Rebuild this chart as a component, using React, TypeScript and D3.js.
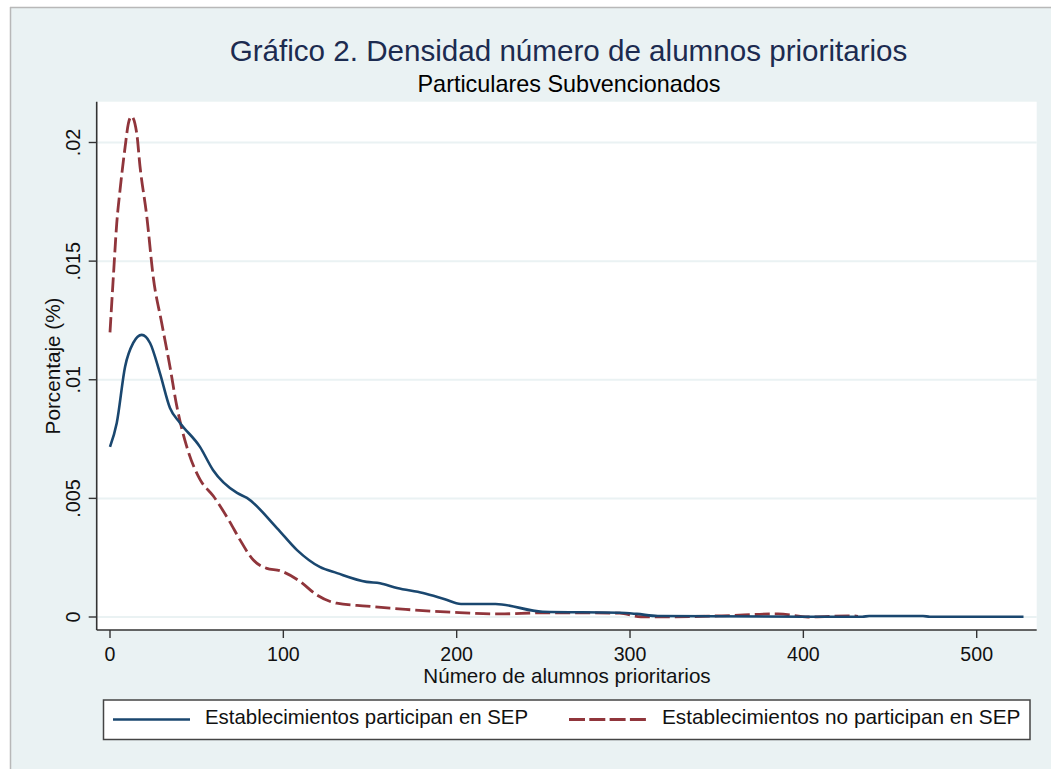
import React from "react";
import * as d3 from "d3";

const xTicks = [0, 100, 200, 300, 400, 500];
const yTicks = [0, 0.005, 0.01, 0.015, 0.02];
const yTickLabels = ["0", ".005", ".01", ".015", ".02"];

const title = "Gráfico 2. Densidad número de alumnos prioritarios";
const subtitle = "Particulares Subvencionados";
const xTitle = "Número de alumnos prioritarios";
const yTitle = "Porcentaje (%)";
const seriesNames = ["Establecimientos participan en SEP", "Establecimientos no participan en SEP"];

// Establecimientos participan en SEP
const sepX = [0, 3.9, 8.7, 13.4, 18.3, 23.1, 28.8, 34.6, 40.4, 51.9, 59.4, 73.3, 79, 96.3, 107.9, 121, 131, 148, 155.8, 165.6, 180.6, 192.7, 202.5, 222.4, 249.6, 294, 303.9, 316, 434, 438, 469, 473, 527];
const sepY = [0.00717, 0.00818, 0.01055, 0.01155, 0.01189, 0.01155, 0.01028, 0.00881, 0.00818, 0.00717, 0.0062, 0.00523, 0.00502, 0.00375, 0.00282, 0.00211, 0.00185, 0.00148, 0.00142, 0.00122, 0.00101, 0.00076, 0.00055, 0.00055, 0.00022, 0.00018, 0.00013, 0.00004, 0.00001, 0.00004, 0.00004, 0.00001, 0.00001];

// Establecimientos no participan en SEP
const noSepX = [0, 1.9, 3.9, 5.8, 8.7, 10.6, 12.4, 15.4, 17.3, 21.2, 25, 29.8, 34.6, 38.5, 44.2, 51.9, 59.6, 69.2, 75, 82.7, 90.4, 98.1, 109.6, 119.3, 130.8, 148.1, 161.5, 170.6, 197.7, 225, 249.6, 294, 306.3, 323.7, 353, 385.4, 402.7, 427, 431.5];
const noSepY = [0.012, 0.0143, 0.0166, 0.018, 0.0198, 0.0208, 0.0211, 0.0204, 0.019, 0.0169, 0.0143, 0.0124, 0.01055, 0.0089, 0.0072, 0.0058, 0.0051, 0.004, 0.00325, 0.0024, 0.00205, 0.00195, 0.0015, 0.00093, 0.00058, 0.00046, 0.00037, 0.00032, 0.0002, 0.00013, 0.00018, 0.00016, 0.00001, 0.00001, 0.00005, 0.00013, 0.0, 0.00005, 0.00003];

const BLUE = "#1a476f";
const RED = "#90353b";
const BG = "#eaf2f3";
const FONT = "'Liberation Sans', Arial, sans-serif";

export default function App() {
  const W = 1051, H = 769;
  const plotL = 96.7, plotR = 1036.7, plotT = 101.7, plotB = 630;
  const x = d3.scaleLinear().domain([0, 500]).range([110, 976.7]);
  const y = d3.scaleLinear().domain([0, 0.02]).range([617, 142.5]);
  const line = d3.line<[number, number]>().x(d => x(d[0])).y(d => y(d[1])).curve(d3.curveMonotoneX);
  const sep = line(sepX.map((v, i) => [v, sepY[i]] as [number, number])) || "";
  const noSep = line(noSepX.map((v, i) => [v, noSepY[i]] as [number, number])) || "";

  return (
    <svg width={W} height={H} style={{ position: "absolute", left: 0, top: 0, fontFamily: FONT }}>
      <rect x={0} y={0} width={W} height={H} fill="#ffffff" />
      <rect x={10} y={7} width={W - 10} height={H - 7} fill={BG} />
      <line x1={10} y1={7.5} x2={W} y2={7.5} stroke="#b8b8b8" strokeWidth={1.5} />
      <line x1={10.5} y1={7} x2={10.5} y2={H} stroke="#b8b8b8" strokeWidth={1.5} />

      <text x={568.5} y={61} textAnchor="middle" fontSize={29.6} fill="#1c2b50">{title}</text>
      <text x={569} y={92} textAnchor="middle" fontSize={23.4} fill="#000">{subtitle}</text>

      <rect x={plotL} y={plotT} width={plotR - plotL} height={plotB - plotT} fill="#ffffff" />
      {yTicks.map((t, i) => (
        <line key={"g" + i} x1={plotL} x2={plotR} y1={y(t)} y2={y(t)} stroke={BG} strokeWidth={2} />
      ))}

      <path d={noSep} fill="none" stroke={RED} strokeWidth={2.8} strokeDasharray="15 5" />
      <path d={sep} fill="none" stroke={BLUE} strokeWidth={2.6} />

      <line x1={plotL} x2={plotL} y1={plotT} y2={plotB} stroke="#333" strokeWidth={1.6} />
      <line x1={plotL} x2={plotR} y1={plotB} y2={plotB} stroke="#333" strokeWidth={1.6} />
      {yTicks.map((t, i) => (
        <g key={"yt" + i}>
          <line x1={plotL - 8} x2={plotL} y1={y(t)} y2={y(t)} stroke="#333" strokeWidth={1.4} />
          <text transform={`translate(${80},${y(t)}) rotate(-90)`} textAnchor="middle" fontSize={19.8} fill="#111">{yTickLabels[i]}</text>
        </g>
      ))}
      {xTicks.map((t, i) => (
        <g key={"xt" + i}>
          <line x1={x(t)} x2={x(t)} y1={plotB} y2={plotB + 8} stroke="#333" strokeWidth={1.4} />
          <text x={x(t)} y={661} textAnchor="middle" fontSize={19.6} fill="#111">{t}</text>
        </g>
      ))}
      <text x={567} y={683} textAnchor="middle" fontSize={20.6} fill="#111">{xTitle}</text>
      <text transform={`translate(${59.5},${366}) rotate(-90)`} textAnchor="middle" fontSize={20.7} fill="#111">{yTitle}</text>

      <rect x={103.5} y={700} width={926.5} height={39.5} fill="#ffffff" stroke="#444" strokeWidth={1.5} />
      <line x1={113} x2={190} y1={719.5} y2={719.5} stroke={BLUE} strokeWidth={2.6} />
      <text x={205} y={724} fontSize={20.4} fill="#111">{seriesNames[0]}</text>
      <line x1={569} x2={647} y1={719.5} y2={719.5} stroke={RED} strokeWidth={2.8} strokeDasharray="16 4.3" />
      <text x={662} y={724} fontSize={20.8} fill="#111">{seriesNames[1]}</text>
    </svg>
  );
}
